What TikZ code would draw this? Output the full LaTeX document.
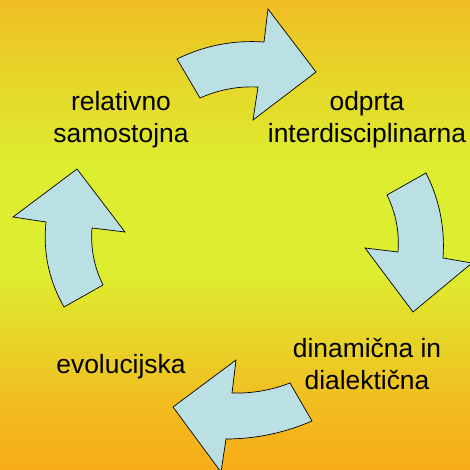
\documentclass[tikz,border=0pt]{standalone}
\usepackage{fontspec}
\setmainfont{Liberation Sans}
\usetikzlibrary{positioning}

\definecolor{bgtop}{RGB}{240,190,36}
\definecolor{bgupper}{RGB}{230,214,40}
\definecolor{bgmid}{RGB}{221,238,48}
\definecolor{bglower}{RGB}{232,212,40}
\definecolor{bgbot}{RGB}{248,172,24}
\definecolor{arrowblue}{RGB}{187,224,227}

% the rectangle is mapped onto 25bp..75bp of the shading
\pgfdeclareverticalshading{bgfade}{100bp}{color(0bp)=(bgbot); color(25bp)=(bgbot);
  color(32.5bp)=(bgbot!55!bglower); color(38.8bp)=(bglower); color(46.3bp)=(bgmid);
  color(56.9bp)=(bgmid); color(66.5bp)=(bgupper); color(75bp)=(bgtop); color(100bp)=(bgtop)}

\begin{document}
\begin{tikzpicture}[x=1bp,y=-1bp,
    cycle arrow/.style={draw=black,fill=arrowblue,line width=0.7bp,line join=miter},
    stage/.style={align=center,anchor=base,inner sep=0pt,
                  font=\fontsize{26.4bp}{32bp}\selectfont}]
  \useasboundingbox (0,0) rectangle (470,470);
  \clip (0,0) rectangle (470,470);
  \shade[shading=bgfade] (0,0) rectangle (470,470);

  % the four arrows of the cycle
  \draw[cycle arrow] (177,59) .. controls (204.5,45.5) and (233.5,39.9) .. (264,42)
    -- (268,9) -- (316,72) -- (253,120) -- (258,87)
    .. controls (237.8,86.1) and (218.4,89.7) .. (200,98) -- cycle;
  \draw[cycle arrow] (426,173) .. controls (439.5,199.7) and (445.1,228.1) .. (443,258)
    -- (472,263) -- (413,312) -- (365,248) -- (398,252)
    .. controls (399.5,232) and (395.9,213) .. (387,195) -- cycle;
  \draw[cycle arrow] (312,421) .. controls (284.5,432.9) and (255.9,438.9) .. (226,439)
    -- (221,472) -- (173,407) -- (236,360) -- (232,393)
    .. controls (252,393.6) and (271.4,390.2) .. (290,383) -- cycle;
  \draw[cycle arrow] (64,307) .. controls (48.9,280.6) and (42.9,252.2) .. (46,222)
    -- (13,217) -- (77,169) -- (125,232) -- (92,228)
    .. controls (90.5,248) and (94.1,267) .. (103,285) -- cycle;

  % stages (base = baseline of the last line)
  \node[stage] (samostojna) at (121,143) {relativno\\samostojna};
  \node[stage] (odprta) at (367,143) {odprta\\interdisciplinarna};
  \node[stage] (dinamicna) at (367,389) {dinamična in\\dialektična};
  \node[stage] (evolucijska) at (121,373) {evolucijska};
\end{tikzpicture}
\end{document}
